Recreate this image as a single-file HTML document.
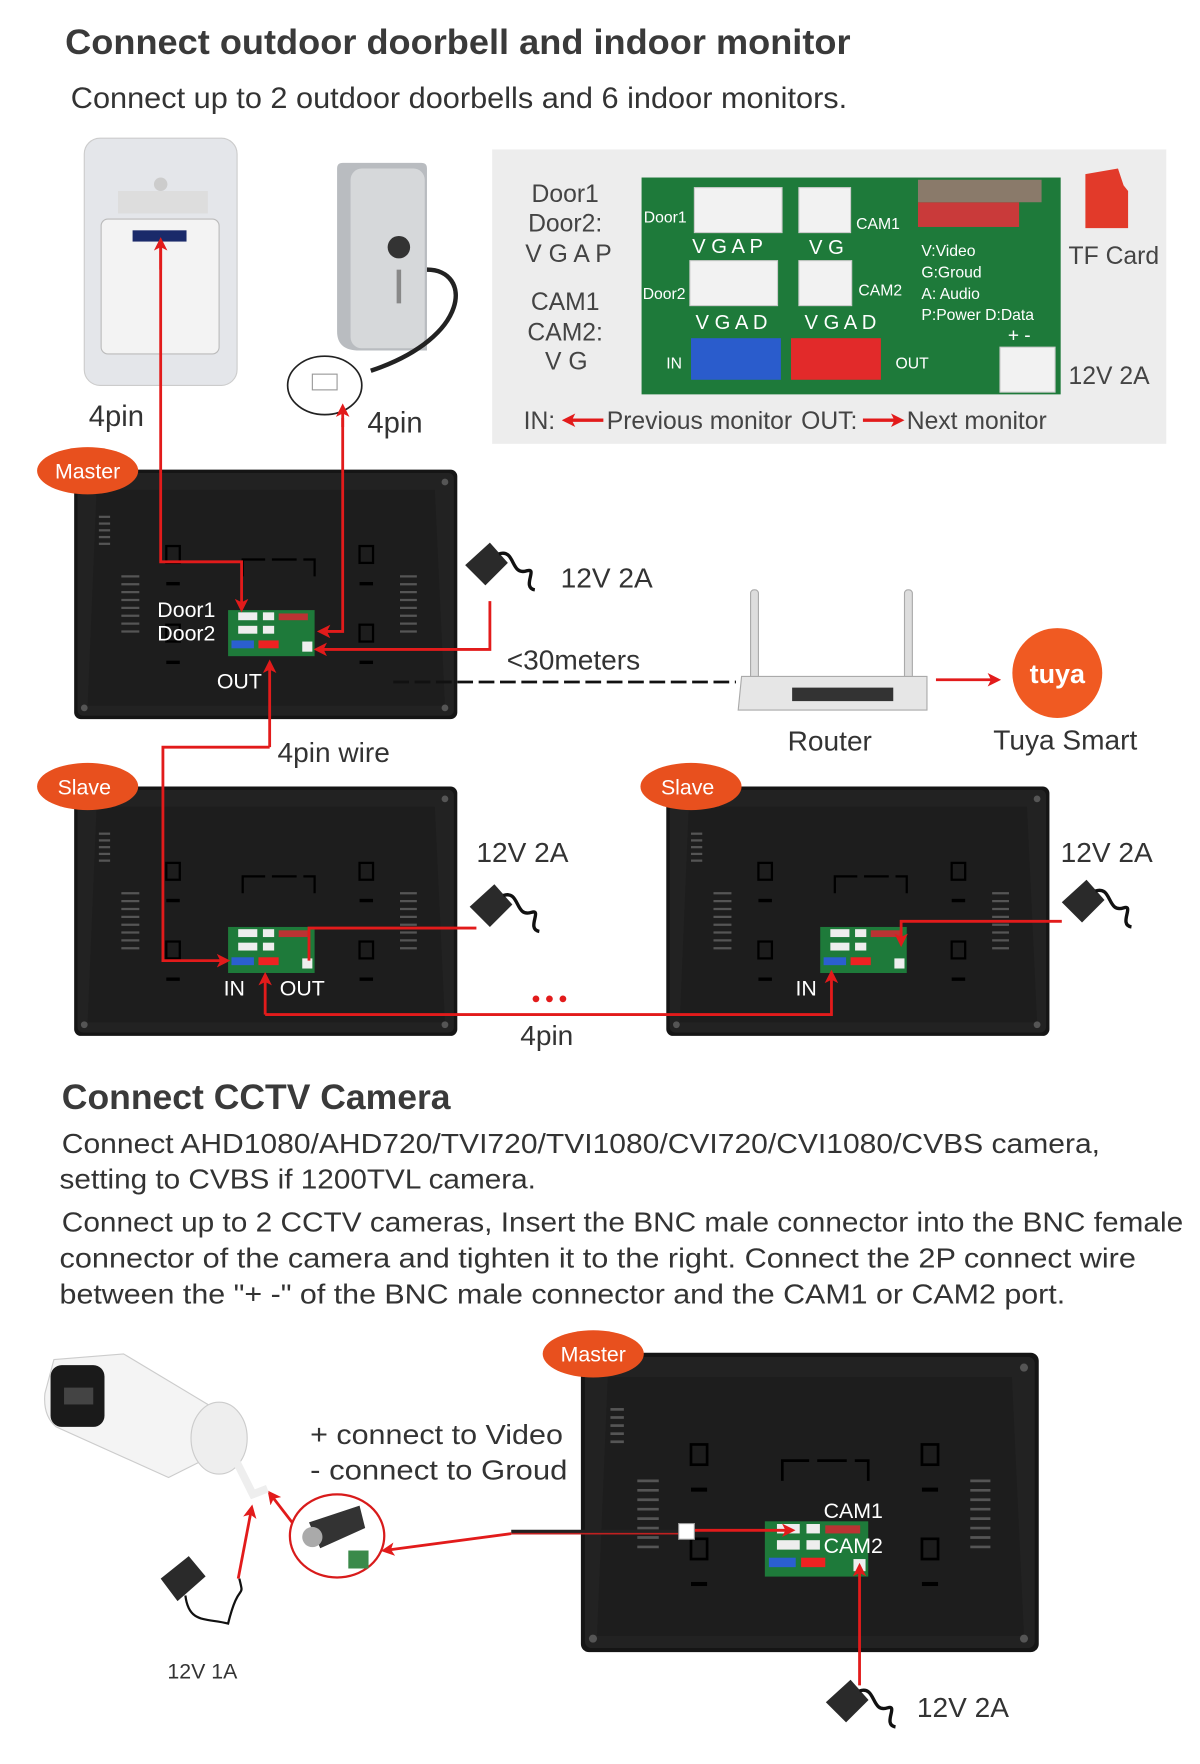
<!DOCTYPE html>
<html><head><meta charset="utf-8"><style>
html,body{margin:0;padding:0;background:#fff;}
svg{display:block;}
text{font-family:"Liberation Sans",sans-serif;}
</style></head><body>
<svg width="1200" height="1764" viewBox="0 0 1068 1570" preserveAspectRatio="none" xmlns="http://www.w3.org/2000/svg">
<defs>
<marker id="ar" markerWidth="12" markerHeight="12" refX="9" refY="6" orient="auto" markerUnits="userSpaceOnUse" viewBox="0 0 12 12"><path d="M0,0 L12,6 L0,12 L3,6z" fill="#e21b1b"/></marker>
<g id="mon">
<rect x="0" y="0" width="341" height="222" rx="6" fill="#151515"/>
<rect x="3" y="3" width="335" height="216" rx="5" fill="#222"/>
<path d="M20,18 L321,18 L330,210 L12,210z" fill="#1d1d1d"/>
<g stroke="#555" stroke-width="2">
<line x1="22" y1="42" x2="32" y2="42"/><line x1="22" y1="48" x2="32" y2="48"/><line x1="22" y1="54" x2="32" y2="54"/><line x1="22" y1="60" x2="32" y2="60"/><line x1="22" y1="66" x2="32" y2="66"/>
<line x1="42" y1="95" x2="58" y2="95"/><line x1="42" y1="102" x2="58" y2="102"/><line x1="42" y1="109" x2="58" y2="109"/><line x1="42" y1="116" x2="58" y2="116"/><line x1="42" y1="123" x2="58" y2="123"/><line x1="42" y1="130" x2="58" y2="130"/><line x1="42" y1="137" x2="58" y2="137"/><line x1="42" y1="144" x2="58" y2="144"/>
<line x1="290" y1="95" x2="305" y2="95"/><line x1="290" y1="102" x2="305" y2="102"/><line x1="290" y1="109" x2="305" y2="109"/><line x1="290" y1="116" x2="305" y2="116"/><line x1="290" y1="123" x2="305" y2="123"/><line x1="290" y1="130" x2="305" y2="130"/><line x1="290" y1="137" x2="305" y2="137"/><line x1="290" y1="144" x2="305" y2="144"/>
</g>
<g fill="none" stroke="#000" stroke-width="2">
<rect x="82" y="68" width="12" height="15"/><rect x="254" y="68" width="12" height="15"/>
<rect x="82" y="138" width="12" height="15"/><rect x="254" y="138" width="12" height="15"/>
<path d="M150,95 V80 H170 M176,80 H198 M204,80 H214 V95"/>
</g>
<g fill="#000"><rect x="82" y="100" width="12" height="3"/><rect x="254" y="100" width="12" height="3"/><rect x="82" y="170" width="12" height="3"/><rect x="254" y="170" width="12" height="3"/></g>
<circle cx="330" cy="11" r="3" fill="#555"/><circle cx="330" cy="212" r="3" fill="#555"/><circle cx="9" cy="212" r="3" fill="#555"/>
<rect x="137" y="125" width="77" height="41" fill="#1e7a3a"/>
<rect x="146" y="127" width="17" height="7" fill="#eee"/><rect x="168" y="127" width="10" height="7" fill="#eee"/><rect x="182" y="128" width="26" height="6" fill="#b33"/>
<rect x="146" y="139" width="17" height="7" fill="#eee"/><rect x="168" y="139" width="10" height="7" fill="#eee"/>
<rect x="140" y="152" width="20" height="7" fill="#2b5fd0"/><rect x="164" y="152" width="18" height="7" fill="#e22"/><rect x="203" y="153" width="9" height="9" fill="#eee"/>
</g>
<g id="psu">
<path d="M0,20 L22,0 L38,18 L18,38z" fill="#2a2a2a"/><path d="M30,10 C45,5 40,30 55,25 C65,22 50,40 62,42" fill="none" stroke="#111" stroke-width="3"/>
</g>
</defs>

<text x="58" y="48" font-size="31" font-weight="bold" fill="#3a3a3a" textLength="699" lengthAdjust="spacingAndGlyphs">Connect outdoor doorbell and indoor monitor</text>
<text x="63" y="96" font-size="26" fill="#333" textLength="691" lengthAdjust="spacingAndGlyphs">Connect up to 2 outdoor doorbells and 6 indoor monitors.</text>

<rect x="75" y="123" width="136" height="220" rx="14" fill="#e4e6ea" stroke="#ccc"/>
<rect x="90" y="195" width="105" height="120" rx="6" fill="#f3f3f3" stroke="#bbb"/>
<rect x="118" y="205" width="48" height="10" fill="#1a2a6a"/>
<rect x="105" y="170" width="80" height="20" fill="#ddd"/>
<circle cx="143" cy="164" r="6" fill="#ccc"/>
<path d="M300,150 Q300,145 305,145 L375,145 Q380,145 380,150 L380,312 L320,312 Q300,312 300,295z" fill="#b9bcc0"/>
<rect x="312" y="150" width="66" height="160" rx="10" fill="#d6d8da"/>
<circle cx="355" cy="220" r="10" fill="#333"/>
<rect x="353" y="240" width="4" height="30" fill="#888"/>
<path d="M380,240 C420,240 420,300 330,330" fill="none" stroke="#222" stroke-width="4"/>
<ellipse cx="289" cy="343" rx="33" ry="26" fill="none" stroke="#222" stroke-width="1.5"/>
<rect x="278" y="333" width="22" height="14" fill="#fff" stroke="#999"/>
<text x="79" y="379" font-size="26" fill="#333">4pin</text>
<text x="327" y="385" font-size="26" fill="#333">4pin</text>

<rect x="438" y="133" width="600" height="262" fill="#ededed"/>
<rect x="571" y="158" width="373" height="193" fill="#1e7a3a"/>
<g font-size="22" fill="#444" text-anchor="middle">
<text x="503" y="180">Door1</text><text x="503" y="206">Door2:</text><text x="506" y="233">V G A P</text>
<text x="503" y="276">CAM1</text><text x="503" y="303">CAM2:</text><text x="504" y="329">V G</text>
</g>
<g fill="#f2f2f2" stroke="#ccc"><rect x="618" y="167" width="78" height="40"/><rect x="711" y="167" width="46" height="40"/><rect x="614" y="232" width="78" height="40"/><rect x="711" y="232" width="47" height="40"/><rect x="890" y="309" width="49" height="40"/></g>
<rect x="615" y="301" width="80" height="37" fill="#2a5ccc"/><rect x="704" y="301" width="80" height="37" fill="#e22a2a"/>
<rect x="817" y="180" width="90" height="22" fill="#c93a3a"/><rect x="817" y="160" width="110" height="20" fill="#8a7a6a"/>
<g font-size="14" fill="#fff">
<text x="573" y="198">Door1</text><text x="762" y="204">CAM1</text><text x="572" y="266">Door2</text><text x="764" y="263">CAM2</text>
<text x="593" y="328">IN</text><text x="797" y="328">OUT</text>
<text x="820" y="228">V:Video</text><text x="820" y="247">G:Groud</text><text x="820" y="266">A: Audio</text><text x="820" y="285">P:Power D:Data</text>
<text x="897" y="304" font-size="17">+  -</text>
</g>
<g font-size="18" fill="#fff"><text x="616" y="225">V G A P</text><text x="720" y="226">V G</text><text x="619" y="293">V G A D</text><text x="716" y="293">V G A D</text></g>
<path d="M966,155 L995,150 L1000,165 L1004,170 L1004,203 L966,203z" fill="#e23a2a"/>
<text x="951" y="235" font-size="22" fill="#444">TF Card</text>
<text x="951" y="342" font-size="22" fill="#444">12V 2A</text>
<g font-size="22" fill="#444"><text x="466" y="382">IN:</text><text x="540" y="382">Previous monitor</text><text x="713" y="382">OUT:</text><text x="807" y="382">Next monitor</text></g>
<line x1="537" y1="374" x2="503" y2="374" stroke="#e21b1b" stroke-width="3" marker-end="url(#ar)"/>
<line x1="768" y1="374" x2="802" y2="374" stroke="#e21b1b" stroke-width="3" marker-end="url(#ar)"/>

<use href="#mon" x="66" y="418"/>
<use href="#mon" x="66" y="700"/>
<use href="#mon" x="593" y="700"/>
<use href="#mon" transform="translate(517,1204) scale(1.195,1.2)"/>

<g fill="#e8501e"><ellipse cx="78" cy="419" rx="45" ry="21"/><ellipse cx="78" cy="700" rx="45" ry="21"/><ellipse cx="615" cy="700" rx="45" ry="21"/><ellipse cx="528" cy="1205" rx="45" ry="21"/></g>
<g font-size="19" fill="#fff" text-anchor="middle"><text x="78" y="426">Master</text><text x="75" y="707">Slave</text><text x="612" y="707">Slave</text><text x="528" y="1212">Master</text></g>
<g font-size="19" fill="#fff"><text x="140" y="549">Door1</text><text x="140" y="570">Door2</text><text x="193" y="613">OUT</text>
<text x="199" y="886">IN</text><text x="249" y="886">OUT</text><text x="708" y="886">IN</text>
<text x="733" y="1351">CAM1</text><text x="733" y="1382">CAM2</text></g>

<use href="#psu" x="414" y="483"/><use href="#psu" x="418" y="787"/><use href="#psu" x="945" y="783"/><use href="#psu" x="735" y="1495"/>
<g transform="translate(143,1385)"><path d="M0,20 L25,0 L40,18 L15,40z" fill="#2a2a2a"/><path d="M22,35 C25,60 40,55 60,60 C70,20 75,40 70,20" fill="none" stroke="#111" stroke-width="2"/></g>
<g font-size="25" fill="#333"><text x="499" y="523">12V 2A</text><text x="424" y="767">12V 2A</text><text x="944" y="767">12V 2A</text><text x="816" y="1528">12V 2A</text>
<text x="451" y="596">&lt;30meters</text><text x="247" y="678">4pin wire</text><text x="463" y="930">4pin</text>
<text x="701" y="668">Router</text><text x="884" y="667">Tuya Smart</text></g>
<text x="149" y="1494" font-size="19" fill="#333">12V 1A</text>

<rect x="668" y="525" width="7" height="80" rx="3" fill="#ddd" stroke="#aaa"/><rect x="805" y="525" width="7" height="80" rx="3" fill="#ddd" stroke="#aaa"/>
<path d="M660,602 L825,602 L825,632 L657,632z" fill="#e6e6e6" stroke="#aaa"/>
<rect x="705" y="612" width="90" height="12" fill="#333"/>
<line x1="350" y1="607" x2="655" y2="607" stroke="#111" stroke-width="2.5" stroke-dasharray="14,5"/>
<line x1="833" y1="605" x2="888" y2="605" stroke="#e21b1b" stroke-width="2.5" marker-end="url(#ar)"/>
<circle cx="941" cy="599" r="40" fill="#f05a22"/>
<text x="941" y="608" font-size="24" font-weight="bold" fill="#fff" text-anchor="middle">tuya</text>

<g fill="none" stroke="#e21b1b" stroke-width="2.5">
<path d="M143,218 V500 H215 V542" marker-end="url(#ar)"/>
<line x1="143" y1="240" x2="143" y2="214" marker-end="url(#ar)"/>
<path d="M305,372 V562 H285" marker-end="url(#ar)"/>
<line x1="305" y1="380" x2="305" y2="362" marker-end="url(#ar)"/>
<path d="M436,535 V578 H282" marker-end="url(#ar)"/>
<path d="M240,665 V590" marker-end="url(#ar)"/>
<path d="M240,665 H145 V855 H202" marker-end="url(#ar)"/>
<path d="M424,826 H275 V855" />
<path d="M236,903 V868" marker-end="url(#ar)"/>
<path d="M236,903 H740 V866" marker-end="url(#ar)"/>
<path d="M945,820 H802 V840" marker-end="url(#ar)"/>
<line x1="455" y1="1365" x2="342" y2="1380" marker-end="url(#ar)"/>
<line x1="612" y1="1362" x2="705" y2="1362" marker-end="url(#ar)"/>
<line x1="765" y1="1500" x2="765" y2="1394" marker-end="url(#ar)"/>
<line x1="212" y1="1405" x2="224" y2="1342" marker-end="url(#ar)"/>
<line x1="260" y1="1355" x2="240" y2="1329" marker-end="url(#ar)"/>
</g>
<g fill="#e21b1b"><circle cx="477" cy="889" r="3"/><circle cx="489" cy="889" r="3"/><circle cx="501" cy="889" r="3"/></g>

<text x="55" y="987" font-size="31" font-weight="bold" fill="#3a3a3a" textLength="346" lengthAdjust="spacingAndGlyphs">Connect CCTV Camera</text>
<g font-size="25" fill="#333">
<text x="55" y="1026" textLength="924" lengthAdjust="spacingAndGlyphs">Connect AHD1080/AHD720/TVI720/TVI1080/CVI720/CVI1080/CVBS camera,</text>
<text x="53" y="1058" textLength="424" lengthAdjust="spacingAndGlyphs">setting to CVBS if 1200TVL camera.</text>
<text x="55" y="1096" textLength="998" lengthAdjust="spacingAndGlyphs">Connect up to 2 CCTV cameras, Insert the BNC male connector into the BNC female</text>
<text x="53" y="1128" textLength="958" lengthAdjust="spacingAndGlyphs">connector of the camera and tighten it to the right. Connect the 2P connect wire</text>
<text x="53" y="1160" textLength="895" lengthAdjust="spacingAndGlyphs">between the "+ -" of the BNC male connector and the CAM1 or CAM2 port.</text>
<text x="276" y="1285" textLength="225" lengthAdjust="spacingAndGlyphs">+ connect to Video</text>
<text x="276" y="1317" textLength="229" lengthAdjust="spacingAndGlyphs">- connect to Groud</text>
</g>

<path d="M48,1210 L110,1205 L185,1250 L180,1300 L150,1315 L50,1270 Q38,1260 40,1240z" fill="#f4f4f4" stroke="#ccc"/>
<rect x="45" y="1215" width="48" height="55" rx="10" fill="#1a1a1a"/>
<rect x="57" y="1235" width="26" height="15" fill="#444"/>
<ellipse cx="195" cy="1280" rx="25" ry="32" fill="#eee" stroke="#ccc"/>
<path d="M210,1300 L225,1330 L238,1325" fill="none" stroke="#eee" stroke-width="7"/>
<ellipse cx="300" cy="1367" rx="42" ry="37" fill="none" stroke="#d81b1b" stroke-width="2"/>
<path d="M275,1355 L320,1340 L325,1360 L285,1378z" fill="#333"/>
<circle cx="278" cy="1368" r="9" fill="#aaa"/>
<rect x="310" y="1380" width="18" height="16" fill="#3a8a4a"/>
<line x1="455" y1="1363" x2="610" y2="1363" stroke="#222" stroke-width="3"/>
<line x1="455" y1="1365" x2="610" y2="1365" stroke="#c02020" stroke-width="1.5"/>
<rect x="604" y="1356" width="14" height="14" fill="#fff" stroke="#999"/>
</svg>
</body></html>
